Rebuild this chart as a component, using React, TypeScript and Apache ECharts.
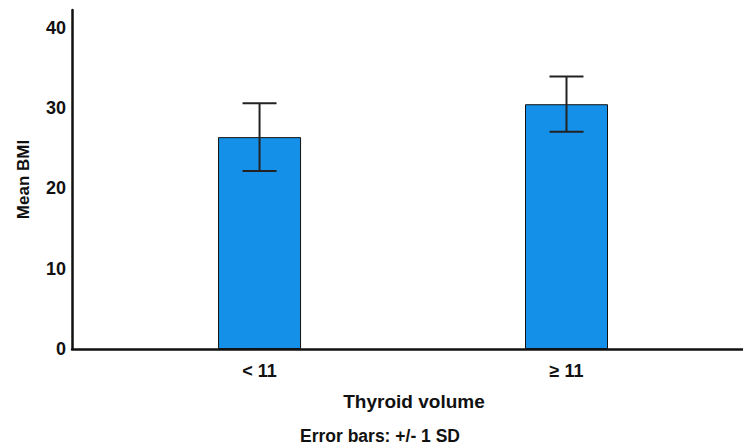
import React, { useEffect, useRef } from "react";
import * as echarts from "echarts";

const categories = ["< 11", "≥ 11"];
const meanBMI = [26.4, 30.5];
const sdBMI = [4.22, 3.44];
const yTicks = [0, 10, 20, 30, 40];

export default function App() {
  const ref = useRef<HTMLDivElement>(null);
  useEffect(() => {
    if (!ref.current) return;
    const chart = echarts.init(ref.current, null, { renderer: "svg" });
    const font = "'Liberation Sans', Arial, sans-serif";
    const barData = categories.map((_, i) => [i, meanBMI[i]]);
    const errData = categories.map((_, i) => [i, meanBMI[i] - sdBMI[i], meanBMI[i] + sdBMI[i]]);
    chart.setOption({
      animation: false,
      backgroundColor: "#ffffff",
      grid: { left: 72, right: 0, top: 10, bottom: 96, containLabel: false },
      xAxis: {
        type: "value",
        min: -0.611,
        max: 1.575,
        name: "Thyroid volume",
        nameLocation: "middle",
        nameGap: 43,
        nameTextStyle: { fontFamily: font, fontWeight: "bold", fontSize: 19, color: "#111", padding: [0, 0, 0, 13] },
        axisLine: { show: true, onZero: false, lineStyle: { color: "#111", width: 2.5 } },
        axisTick: { show: false },
        splitLine: { show: false },
        axisLabel: {
          customValues: [0, 1],
          margin: 13,
          fontFamily: font,
          fontWeight: "bold",
          fontSize: 18,
          color: "#111",
          formatter: (v: number) => categories[Math.round(v)] ?? "",
        },
      },
      yAxis: {
        type: "value",
        min: 0,
        max: 42.24,
        interval: 10,
        name: "Mean BMI",
        nameLocation: "middle",
        nameGap: 40,
        nameTextStyle: { fontFamily: font, fontWeight: "bold", fontSize: 17, color: "#111" },
        axisLine: { show: true, onZero: false, lineStyle: { color: "#111", width: 2.5 } },
        axisTick: { show: false },
        splitLine: { show: false },
        axisLabel: {
          margin: 6,
          fontFamily: font,
          fontWeight: "bold",
          fontSize: 18,
          color: "#111",
          formatter: (v: number) => (yTicks.includes(v) ? String(v) : ""),
        },
      },
      graphic: [
        {
          type: "text",
          left: 300,
          top: 427,
          style: {
            text: "Error bars: +/- 1 SD",
            font: `bold 17.5px ${font}`,
            fill: "#111",
          },
        },
      ],
      series: [
        {
          type: "bar",
          data: barData,
          barWidth: 83,
          itemStyle: { color: "#1490e8", borderColor: "#111", borderWidth: 1 },
        },
        {
          type: "custom",
          data: errData,
          encode: { x: 0, y: [1, 2] },
          z: 5,
          renderItem: (params: any, api: any) => {
            const x = api.value(0);
            const lo = api.coord([x, api.value(1)]);
            const hi = api.coord([x, api.value(2)]);
            const half = 17;
            const style = { stroke: "#222", lineWidth: 2 };
            return {
              type: "group",
              children: [
                { type: "line", shape: { x1: lo[0], y1: lo[1], x2: hi[0], y2: hi[1] }, style },
                { type: "line", shape: { x1: hi[0] - half, y1: hi[1], x2: hi[0] + half, y2: hi[1] }, style },
                { type: "line", shape: { x1: lo[0] - half, y1: lo[1], x2: lo[0] + half, y2: lo[1] }, style },
              ],
            };
          },
        },
      ],
    });
    return () => chart.dispose();
  }, []);
  return <div ref={ref} style={{ position: "fixed", left: 0, top: 0, width: 743, height: 445 }} />;
}
